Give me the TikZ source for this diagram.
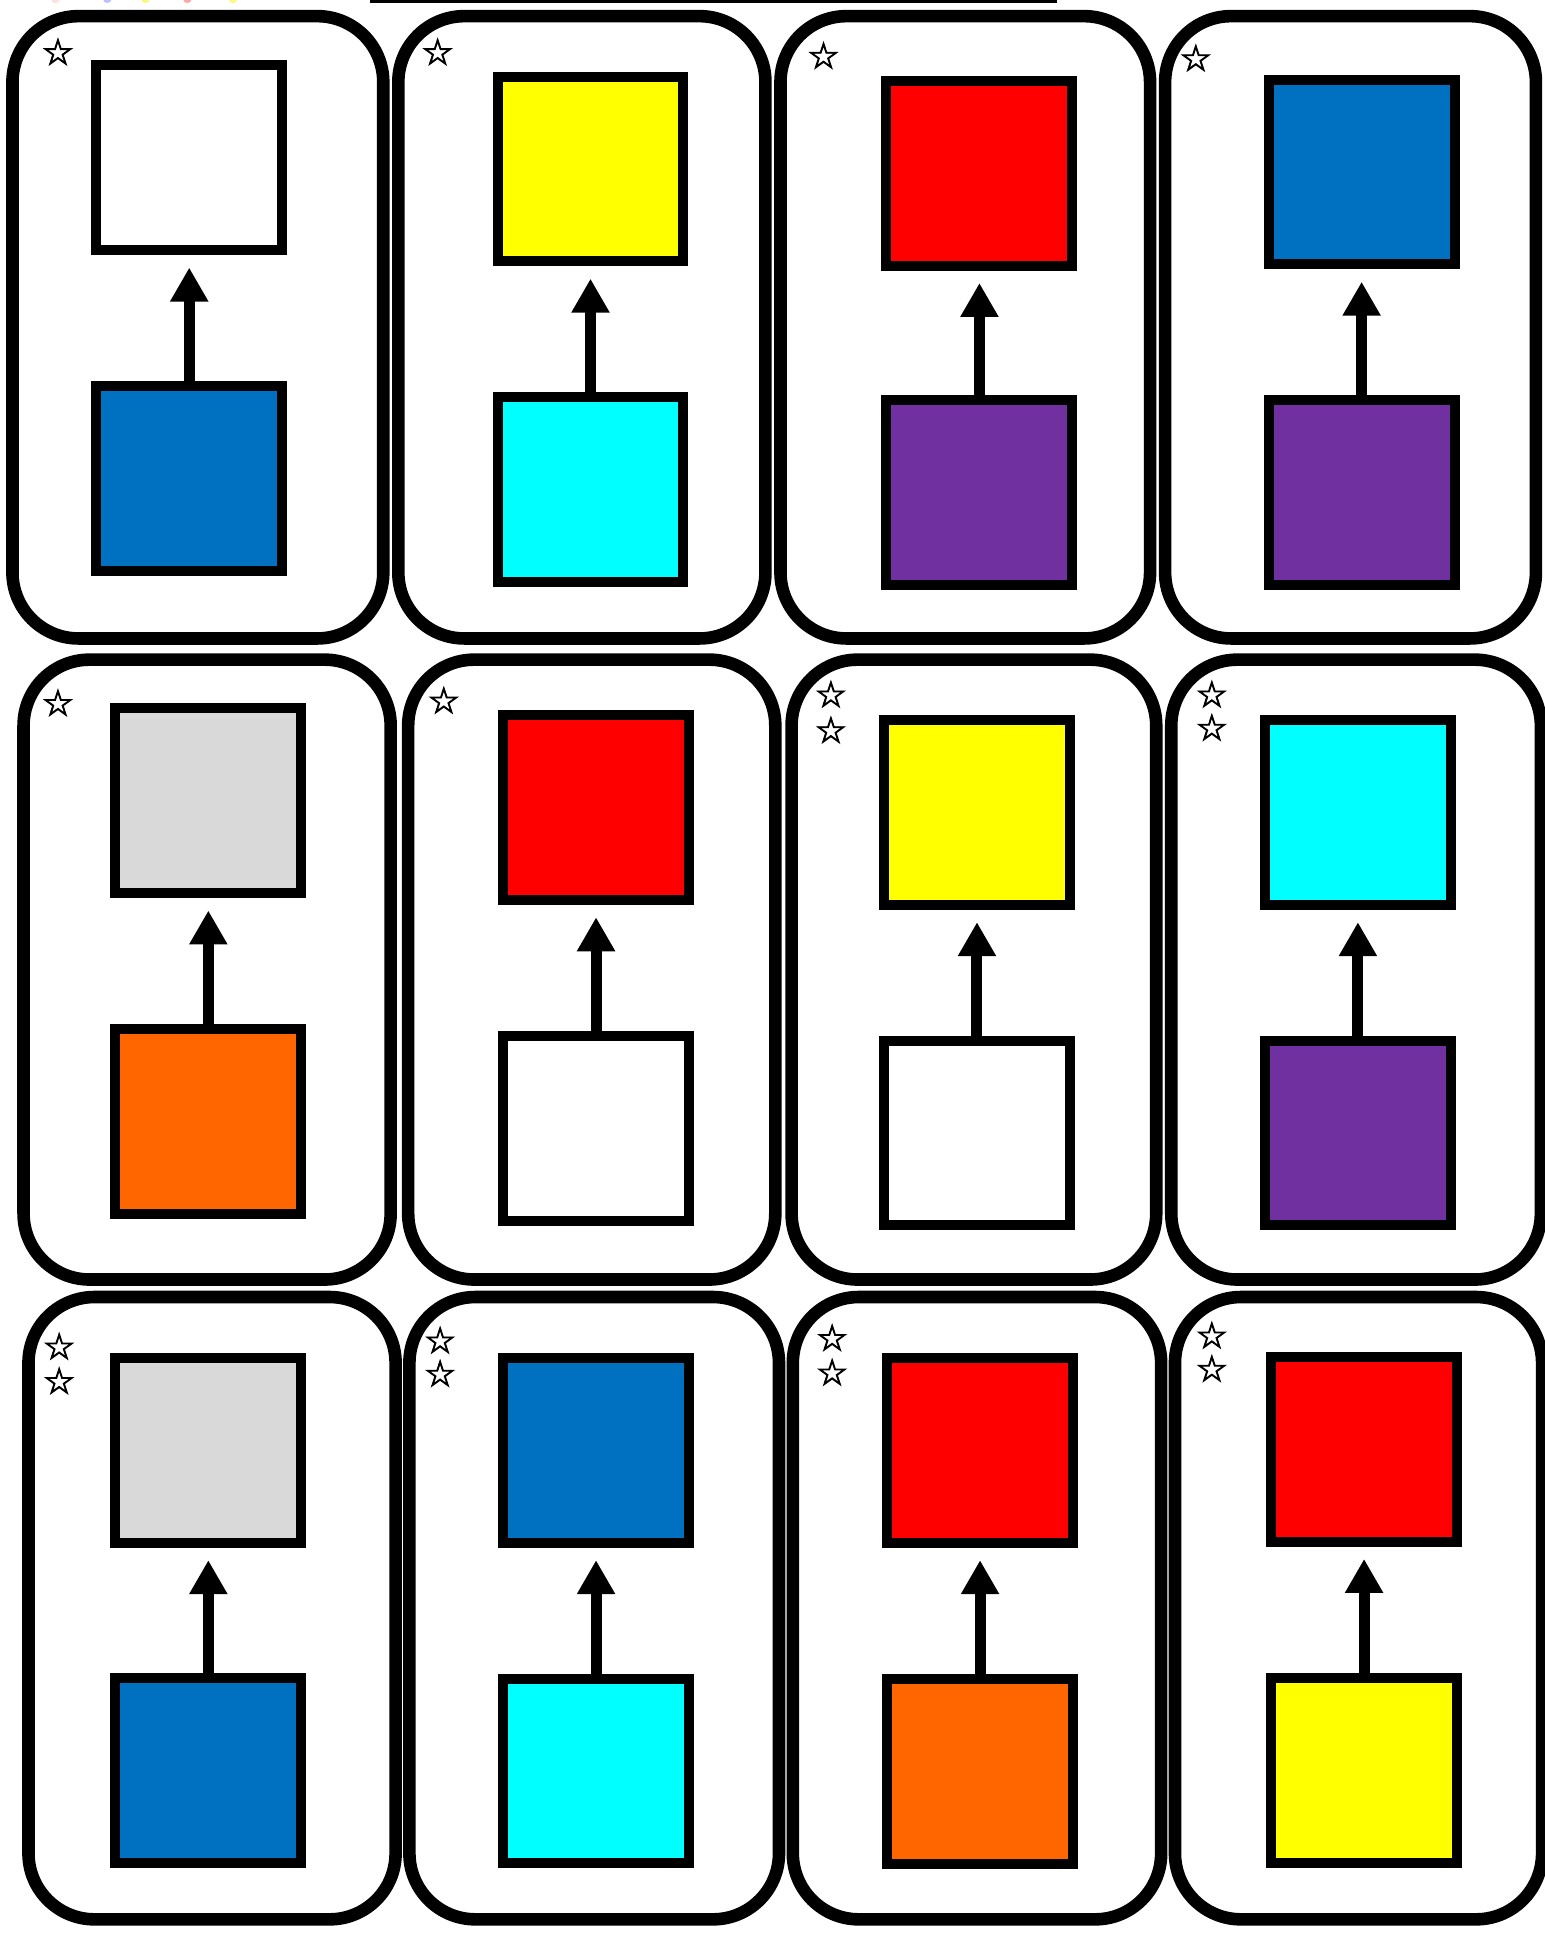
\documentclass[tikz,border=0pt]{standalone}
\usepackage{fontspec}
\newfontfamily\symfont{DejaVu Sans}[FakeBold=2.5]
\usetikzlibrary{arrows.meta}
\definecolor{cblue}{HTML}{0070C0}
\definecolor{cyellow}{HTML}{FFFF00}
\definecolor{cred}{HTML}{FF0000}
\definecolor{cpurple}{HTML}{7030A0}
\definecolor{ccyan}{HTML}{00FFFF}
\definecolor{cgrey}{HTML}{D9D9D9}
\definecolor{corange}{HTML}{FF6600}
\begin{document}
\begin{tikzpicture}[x=0.6165pt,y=-0.6165pt,
  card/.style={draw=black, line width=6.3pt, rounded corners=33pt, fill=white},
  sq/.style={draw=black, line width=5pt, minimum width=93pt, minimum height=92.4pt, inner sep=0pt, outer sep=2.5pt},
  arr/.style={line width=5.5pt, -{Triangle[width=18pt,length=17pt]}, shorten >=6.2pt},
  staricon/.style={inner sep=0pt, font=\symfont\fontsize{18}{18}\selectfont}]
\fill[white] (0,0) rectangle (1253,1568);
\useasboundingbox (0,0) rectangle (1253,1568);
% faint dots at the top edge
\fill[pink!50] (45,-1) circle (3.5);
\fill[blue!25] (87,-1) circle (3.5);
\fill[yellow!50] (118,-1) circle (3.5);
\fill[red!35] (152,-1) circle (3.5);
\fill[yellow!50] (189,-1) circle (3.5);
% top line
\draw[line width=2pt] (300,1) -- (857,1);
% cards
\draw[card] (5+5.1,8+5.1) rectangle (316-5.1,523-5.1);
\draw[card] (318+5.1,8+5.1) rectangle (626-5.1,523-5.1);
\draw[card] (628+5.1,8+5.1) rectangle (938-5.1,523-5.1);
\draw[card] (940+5.1,8+5.1) rectangle (1251-5.1,523-5.1);
\draw[card] (14+5.1,530+5.1) rectangle (322-5.1,1043-5.1);
\draw[card] (326+5.1,530+5.1) rectangle (634-5.1,1043-5.1);
\draw[card] (637+5.1,530+5.1) rectangle (943-5.1,1043-5.1);
\draw[card] (945+5.1,530+5.1) rectangle (1255-5.1,1043-5.1);
\draw[card] (18+5.1,1047+5.1) rectangle (326-5.1,1562-5.1);
\draw[card] (327+5.1,1047+5.1) rectangle (637-5.1,1562-5.1);
\draw[card] (638+5.1,1047+5.1) rectangle (947-5.1,1562-5.1);
\draw[card] (948+5.1,1047+5.1) rectangle (1256-5.1,1562-5.1);
% row 1
\node[sq, fill=white]   (t11) at (153.5,128) {};
\node[sq, fill=cblue]   (b11) at (153.5,388) {};
\node[sq, fill=cyellow] (t12) at (479,137) {};
\node[sq, fill=ccyan]   (b12) at (479,397) {};
\node[sq, fill=cred]    (t13) at (794.5,140.5) {};
\node[sq, fill=cpurple] (b13) at (794.5,399.5) {};
\node[sq, fill=cblue]   (t14) at (1104.5,139.5) {};
\node[sq, fill=cpurple] (b14) at (1104.5,399.5) {};
% row 2
\node[sq, fill=cgrey]   (t21) at (169,649.5) {};
\node[sq, fill=corange] (b21) at (169,910) {};
\node[sq, fill=cred]    (t22) at (483.5,655) {};
\node[sq, fill=white]   (b22) at (483.5,915.5) {};
\node[sq, fill=cyellow] (t23) at (792.5,659) {};
\node[sq, fill=white]   (b23) at (792.5,919) {};
\node[sq, fill=ccyan]   (t24) at (1101.5,659) {};
\node[sq, fill=cpurple] (b24) at (1101.5,919) {};
% row 3
\node[sq, fill=cgrey]   (t31) at (169,1176.5) {};
\node[sq, fill=cblue]   (b31) at (169,1436) {};
\node[sq, fill=cblue]   (t32) at (483.5,1176.5) {};
\node[sq, fill=ccyan]   (b32) at (483.5,1436.5) {};
\node[sq, fill=cred]    (t33) at (795,1176.5) {};
\node[sq, fill=corange] (b33) at (795,1437) {};
\node[sq, fill=cred]    (t34) at (1106.5,1175.5) {};
\node[sq, fill=cyellow] (b34) at (1106.5,1436) {};
% arrows
\foreach \r in {1,2,3}{
  \foreach \c in {1,2,3,4}{
    \draw[arr] (b\r\c.north) -- (t\r\c.south);
  }
}
% stars
\node[staricon] (s11) at (47,42) {☆};
\node[staricon] (s12) at (355,42) {☆};
\node[staricon] (s13) at (668,45) {☆};
\node[staricon] (s14) at (970,47) {☆};
\node[staricon] (s21) at (47,570) {☆};
\node[staricon] (s22) at (360,568) {☆};
\node[staricon] (s23a) at (674,563) {☆};
\node[staricon] (s23b) at (674,592) {☆};
\node[staricon] (s24a) at (983,563) {☆};
\node[staricon] (s24b) at (983,590) {☆};
\node[staricon] (s31a) at (48,1092) {☆};
\node[staricon] (s31b) at (48,1120) {☆};
\node[staricon] (s32a) at (357,1087) {☆};
\node[staricon] (s32b) at (357,1114) {☆};
\node[staricon] (s33a) at (675,1085) {☆};
\node[staricon] (s33b) at (675,1113) {☆};
\node[staricon] (s34a) at (983,1083) {☆};
\node[staricon] (s34b) at (983,1110) {☆};
\end{tikzpicture}
\end{document}
